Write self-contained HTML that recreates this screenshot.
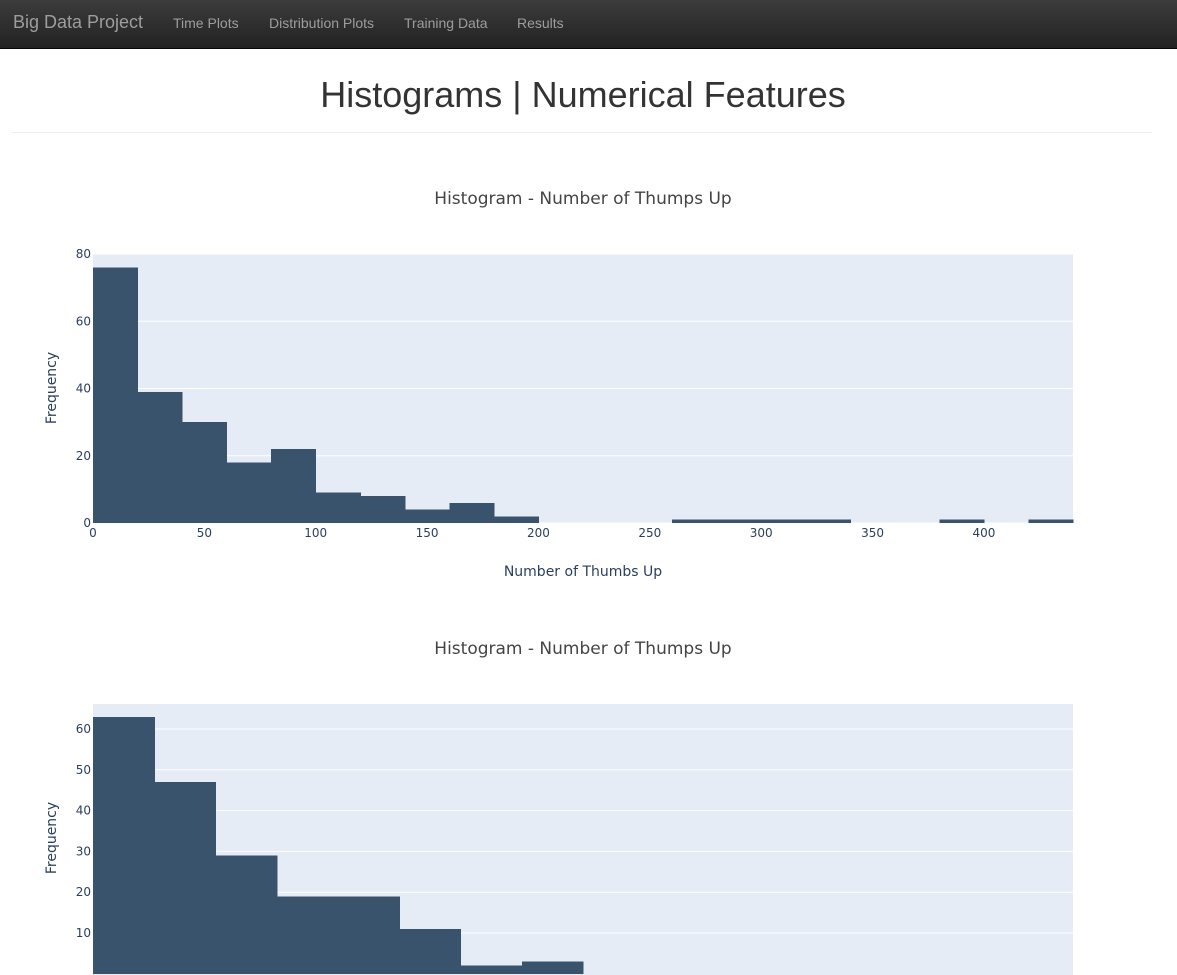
<!DOCTYPE html>
<html><head><meta charset="utf-8">
<style>
body{margin:0;width:1177px;height:965px;overflow:hidden;background:#fff;font-family:"Liberation Sans",sans-serif;}
.nav{position:absolute;left:0;top:0;width:1177px;height:48px;background:linear-gradient(#3c3c3c,#222);border-bottom:1px solid #080808;}
.nav span{position:absolute;top:15px;color:#9d9d9d;font-size:14px;}
.brand{left:13px;top:12px!important;font-size:18px!important;}
h1{position:absolute;left:0;width:1166px;top:74px;margin:0;text-align:center;font-weight:normal;font-size:36px;color:#333;}
.hr{position:absolute;left:12px;width:1140px;top:132px;height:1px;background:#eee;}
svg{position:absolute;left:0;}
rect{shape-rendering:crispEdges;}
text{font-family:"DejaVu Sans","Liberation Sans",sans-serif;}
</style></head><body>
<div class="nav">
<span class="brand">Big Data Project</span>
<span style="left:173px">Time Plots</span>
<span style="left:269px">Distribution Plots</span>
<span style="left:404px">Training Data</span>
<span style="left:517px">Results</span>
</div>
<h1>Histograms | Numerical Features</h1>
<div class="hr"></div>
<svg id="c1" width="1177" height="440" style="top:160px"></svg>
<svg id="c2" width="1177" height="365" style="top:610px"></svg>
<script>
// chart 1 data
const c1BinStarts=[0,20,40,60,80,100,120,140,160,180,200,220,240,260,280,300,320,340,360,380,400,420];
const c1Counts=[76,39,30,18,22,9,8,4,6,2,0,0,0,1,1,1,1,0,0,1,0,1];
const c1XTicks=[0,50,100,150,200,250,300,350,400];
const c1YTicks=[0,20,40,60,80];
// chart 2 data
const c2BinStarts=[0,1,2,3,4,5,6,7];
const c2Counts=[63,47,29,19,19,11,2,3];
const c2YTicks=[10,20,30,40,50,60];

const NS='http://www.w3.org/2000/svg';
function mk(svg,tag,attrs,txt){const e=document.createElementNS(NS,tag);for(const k in attrs)e.setAttribute(k,attrs[k]);if(txt!==undefined)e.textContent=txt;svg.appendChild(e);return e;}

function draw(svg,o){
  const L=93,R=1073,T=o.top,B=o.bottom;
  const x=v=>L+(v-o.xmin)/(o.xmax-o.xmin)*(R-L);
  const y=v=>o.y0+(v)*o.ypx;
  const t=mk(svg,'text',{x:583,y:44,'text-anchor':'middle','font-size':17,fill:'#444'},o.title);
  
  const bg=mk(svg,'rect',{x:L,y:T,width:R-L,height:B-T,fill:'#e5ecf6'});
  
  o.yTicks.forEach(v=>{
    const g=mk(svg,'line',{x1:L,x2:R,y1:y(v),y2:y(v),stroke:'#fff','stroke-width':1});
    
    const tl=mk(svg,'text',{x:L-2,y:y(v)+4,'text-anchor':'end','font-size':12,fill:'#2a3f5f'},v);
    
  });
  o.starts.forEach((s,i)=>{
    if(!o.counts[i])return;
    const top=o.y0-o.counts[i]*(-o.ypx);
    const h=Math.max(o.counts[i]*(-o.ypx),1);
    const r=mk(svg,'rect',{x:x(s),y:top,width:x(s+o.bw)-x(s)+0.5,height:Math.min(h,B-top),fill:'#3a536d'});
    
  });
  (o.xTicks||[]).forEach(v=>{
    const tl=mk(svg,'text',{x:x(v),y:B+14,'text-anchor':'middle','font-size':12,fill:'#2a3f5f'},v);
    
  });
  if(o.xTitle){const xt=mk(svg,'text',{x:583,y:B+53,'text-anchor':'middle','font-size':14,fill:'#2a3f5f'},o.xTitle);
    }
  const yt=mk(svg,'text',{x:0,y:0,'text-anchor':'middle','font-size':14,fill:'#2a3f5f',transform:`translate(56,${o.ytY}) rotate(-90)`},'Frequency');
  
}
draw(document.getElementById('c1'),{title:'Histogram - Number of Thumps Up',top:94,bottom:363,xmin:0,xmax:440,y0:363,ypx:-269/80,
  starts:c1BinStarts,counts:c1Counts,bw:20,xTicks:c1XTicks,yTicks:c1YTicks,xTitle:'Number of Thumbs Up',ytY:228});
draw(document.getElementById('c2'),{title:'Histogram - Number of Thumps Up',top:94,bottom:365,xmin:0,xmax:16,y0:363.8,ypx:-4.08,
  starts:c2BinStarts,counts:c2Counts,bw:1,xTicks:[],yTicks:c2YTicks,ytY:228});
</script>
</body></html>
